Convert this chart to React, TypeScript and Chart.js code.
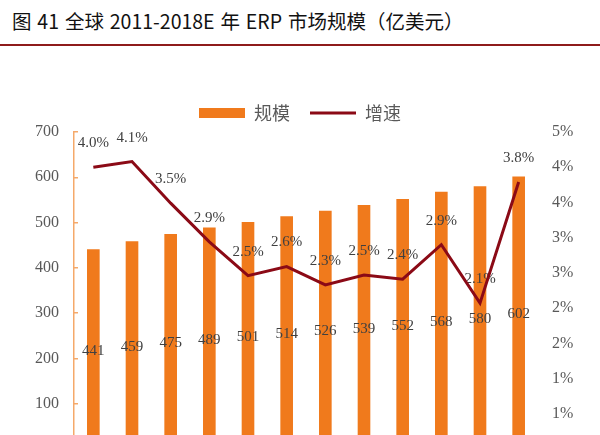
import React, { useEffect, useRef } from 'react';
import { Chart, registerables } from 'chart.js';

Chart.register(...registerables);

const categories = ['2007', '2008', '2009', '2010', '2011', '2012', '2013', '2014', '2015', '2016', '2017E', '2018E'];
const marketSize = [441, 459, 475, 489, 501, 514, 526, 539, 552, 568, 580, 602];
const growthRate = [4.0, 4.08, 3.49, 2.94, 2.46, 2.59, 2.33, 2.47, 2.41, 2.9, 2.07, 3.79];
const seriesNames = ['规模', '增速'];
const titleText = '图 41 全球 2011-2018E 年 ERP 市场规模（亿美元）';

const SERIF = '"Liberation Serif", "Times New Roman", serif';
const CJK = '"Noto Sans CJK SC", sans-serif';
const BAR_COLOR = '#F07A1C';
const LINE_COLOR = '#8B0A16';
const TEXT_GRAY = '#595959';

const valueLabels = {
  id: 'valueLabels',
  beforeDatasetDraw(chart: any, args: any) {
    if (args.index !== 1) return;
    const ctx = chart.ctx;
    ctx.save();
    ctx.font = `15px ${SERIF}`;
    ctx.fillStyle = '#404040';
    ctx.textAlign = 'center';
    ctx.textBaseline = 'middle';
    chart.getDatasetMeta(0).data.forEach((el: any, i: number) => {
      const p = el.getProps(['x', 'y', 'base'], true);
      ctx.fillText(String(marketSize[i]), p.x, (p.y + p.base) / 2 + 2);
    });
    chart.getDatasetMeta(1).data.forEach((el: any, i: number) => {
      ctx.fillText(growthRate[i].toFixed(1) + '%', el.x, el.y - 24);
    });
    ctx.restore();
  },
};

export default function App() {
  const ref = useRef<HTMLCanvasElement>(null);

  useEffect(() => {
    if (!ref.current) return;
    const chart = new Chart(ref.current, {
      type: 'bar',
      data: {
        labels: categories,
        datasets: [
          {
            type: 'bar',
            label: seriesNames[0],
            data: marketSize,
            backgroundColor: BAR_COLOR,
            borderWidth: 0,
            barPercentage: 0.327,
            categoryPercentage: 1,
            yAxisID: 'y',
            order: 1,
            pointStyle: 'rect',
          } as any,
          {
            type: 'line',
            label: seriesNames[1],
            data: growthRate,
            borderColor: LINE_COLOR,
            backgroundColor: LINE_COLOR,
            borderWidth: 3,
            pointRadius: 0,
            pointHoverRadius: 0,
            tension: 0,
            yAxisID: 'y1',
            order: 0,
            pointStyle: 'line',
          } as any,
        ],
      },
      options: {
        responsive: false,
        animation: false,
        layout: { padding: { top: 38, left: 0, right: 0, bottom: 0 } },
        plugins: {
          legend: {
            position: 'top',
            maxHeight: 51,
            labels: {
              usePointStyle: true,
              pointStyleWidth: 46,
              boxHeight: 10,
              padding: 20,
              color: TEXT_GRAY,
              font: { family: CJK, size: 18 },
              sort: (a: any, b: any) => a.datasetIndex - b.datasetIndex,
            },
          } as any,
          tooltip: { enabled: false },
        },
        scales: {
          x: {
            grid: { display: false },
            border: { display: true, color: '#F5A96A', width: 1.5 },
            ticks: { color: TEXT_GRAY, font: { family: SERIF, size: 16 } },
            afterFit: (s: any) => { s.height = 37; },
          },
          y: {
            position: 'left',
            min: 0,
            max: 700,
            ticks: { stepSize: 100, color: TEXT_GRAY, padding: 19, font: { family: SERIF, size: 16 } },
            grid: { drawOnChartArea: false, drawTicks: true, tickLength: -4, color: '#F5A96A', lineWidth: 1.5 },
            border: { display: true, color: '#F5A96A', width: 1.5 },
            afterFit: (s: any) => { s.width = 74; },
          },
          y1: {
            position: 'right',
            min: 0,
            max: 4.5,
            ticks: {
              stepSize: 0.5,
              color: TEXT_GRAY,
              padding: 14,
              font: { family: SERIF, size: 16 },
              callback: (v: any) => Math.round(Number(v)) + '%',
            },
            grid: { display: false, drawTicks: false },
            border: { display: false },
            afterFit: (s: any) => { s.width = 62; },
          },
        },
      },
      plugins: [valueLabels],
    });
    return () => chart.destroy();
  }, []);

  return (
    <div style={{ position: 'absolute', left: 0, top: 0, width: 600, height: 435, overflow: 'hidden', background: '#fff' }}>
      <div
        style={{
          position: 'absolute',
          left: 0,
          top: 0,
          width: 600,
          height: 46,
          boxSizing: 'border-box',
          borderBottom: '2px solid #8E1B1B',
          paddingLeft: 12,
          lineHeight: '42px',
          fontFamily: CJK,
          fontSize: 19.5,
          wordSpacing: 1.5,
          color: '#111',
          whiteSpace: 'pre',
        }}
      >
        {titleText}
      </div>
      <canvas ref={ref} width={600} height={440} style={{ position: 'absolute', left: 0, top: 46, width: 600, height: 440 }} />
    </div>
  );
}
